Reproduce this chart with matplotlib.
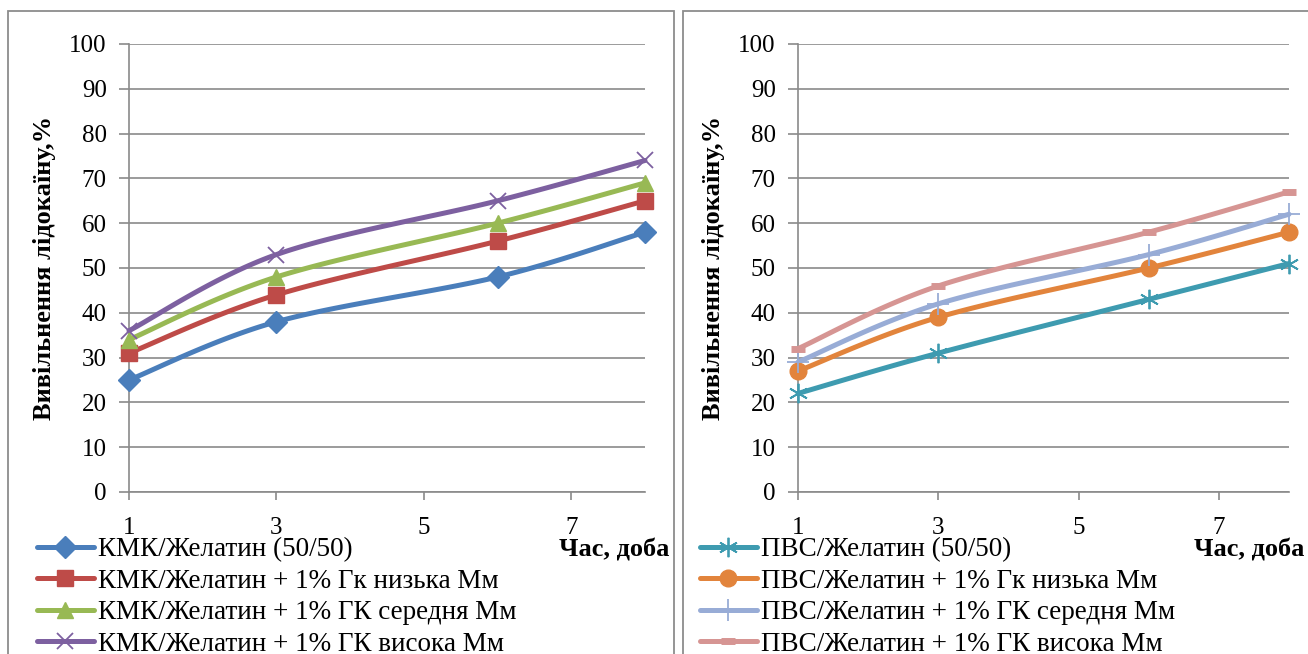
import matplotlib.pyplot as plt
import numpy as np
from matplotlib.lines import Line2D
from matplotlib.patches import Rectangle

plt.rcParams["font.family"] = ["Liberation Serif", "DejaVu Serif"]

W, H = 1308, 654

days = [1, 3, 6, 8]
x_ticks = [1, 3, 5, 7]
y_ticks = list(range(0, 101, 10))

cmc_labels = ["КМК/Желатин (50/50)",
              "КМК/Желатин + 1% Гк низька Мм",
              "КМК/Желатин + 1% ГК середня Мм",
              "КМК/Желатин + 1% ГК висока Мм"]
cmc_base = [25, 38, 48, 58]
cmc_low = [31, 44, 56, 65]
cmc_mid = [34, 48, 60, 69]
cmc_high = [36, 53, 65, 74]

pva_labels = ["ПВС/Желатин (50/50)",
              "ПВС/Желатин + 1% Гк низька Мм",
              "ПВС/Желатин + 1% ГК середня Мм",
              "ПВС/Желатин + 1% ГК висока Мм"]
pva_base = [22, 31, 43, 51]
pva_low = [27, 39, 50, 58]
pva_mid = [29, 42, 53, 62]
pva_high = [32, 46, 58, 67]

# colour, marker, marker size, marker edge width
cmc_styles = [("#4A7EBB", "D", 11, 1.0),
              ("#BE4B48", "s", 11, 1.0),
              ("#98B954", "^", 12, 1.0),
              ("#7D60A0", "x", 12, 1.3)]
pva_styles = [("#3E9BB0", (6, 2, 0), 14, 1.3),
              ("#E2843C", "o", 12, 1.0),
              ("#98ACD6", "+", 16, 1.3),
              ("#D69593", "_", 10, 5.0)]

GRID = "#8A8A8A"
LW = 3.6


def fx(px):
    return px / W


def fy(py):
    return (H - py) / H


def smooth(ax, xs, ys, n=40):
    """Excel-style smoothed line: Catmull-Rom Bezier in display space."""
    pts = ax.transData.transform(np.column_stack([xs, ys]))
    ext = np.vstack([pts[0], pts, pts[-1]])
    out = []
    for i in range(len(pts) - 1):
        p0, p1, p2, p3 = ext[i], ext[i + 1], ext[i + 2], ext[i + 3]
        c1 = p1 + (p2 - p0) / 6
        c2 = p2 - (p3 - p1) / 6
        t = np.linspace(0, 1, n)[:, None]
        seg = ((1 - t) ** 3 * p1 + 3 * (1 - t) ** 2 * t * c1
               + 3 * (1 - t) * t ** 2 * c2 + t ** 3 * p2)
        out.append(seg if i == 0 else seg[1:])
    return ax.transData.inverted().transform(np.vstack(out))


def draw_panel(fig, left_px, right_px, series, labels, styles,
               box_x, legend_x, xlabel_right):
    width_px = right_px - left_px
    ax = fig.add_axes([fx(left_px), fy(492), fx(width_px), (492 - 44) / H])
    ax.set_xlim(1, 8)
    ax.set_ylim(0, 100)
    ax.set_xticks(x_ticks)
    ax.set_yticks(y_ticks)
    ax.grid(axis="y", color=GRID, lw=1.2)
    ax.set_axisbelow(True)
    for side in ("top", "right"):
        ax.spines[side].set_visible(False)
    for side in ("left", "bottom"):
        ax.spines[side].set_color(GRID)
        ax.spines[side].set_linewidth(1.2)
    ax.tick_params(axis="y", length=7, width=1.2, color=GRID, pad=9,
                   labelsize=18)
    ax.tick_params(axis="x", length=6, width=1.2, color=GRID, pad=12,
                   labelsize=18)

    handles = []
    for ys, (col, mk, ms, mew) in zip(series, styles):
        curve = smooth(ax, days, ys)
        ax.plot(curve[:, 0], curve[:, 1], color=col, lw=LW,
                solid_capstyle="round", clip_on=False, zorder=3)
        ax.plot(days, ys, ls="none", marker=mk, ms=ms, color=col,
                mec=col, mew=mew, clip_on=False, zorder=4)
        handles.append(Line2D([], [], color=col, lw=LW, marker=mk, ms=ms,
                              mec=col, mew=mew, solid_capstyle="round"))

    ax.set_ylabel("Вивільнення лідокаїну,%", fontsize=19,
                  fontweight="bold")
    ax.yaxis.set_label_coords(-73 / width_px, 0.5)
    fig.text(fx(xlabel_right), fy(550), "Час, доба", fontsize=19,
             fontweight="bold", ha="right", va="center")

    ax.legend(handles, labels, loc="upper left",
              bbox_to_anchor=(fx(legend_x), fy(537)),
              bbox_transform=fig.transFigure, frameon=False, fontsize=19.5,
              handlelength=2.1, handletextpad=0.15, labelspacing=0.245,
              borderpad=0, borderaxespad=0, numpoints=1)

    fig.patches.append(Rectangle((fx(box_x[0]), fy(700)),
                                 fx(box_x[1] - box_x[0]), (700 - 11) / H,
                                 transform=fig.transFigure, fill=False,
                                 ec="#8C8C8C", lw=1.3))
    return ax


fig = plt.figure(figsize=(W / 100, H / 100), dpi=100)

draw_panel(fig, 129, 645, [cmc_base, cmc_low, cmc_mid, cmc_high],
           cmc_labels, cmc_styles, (8, 674), 37, 669)
draw_panel(fig, 798, 1289, [pva_base, pva_low, pva_mid, pva_high],
           pva_labels, pva_styles, (683, 1340), 700, 1304)

fig.savefig("out.png", dpi=100)
